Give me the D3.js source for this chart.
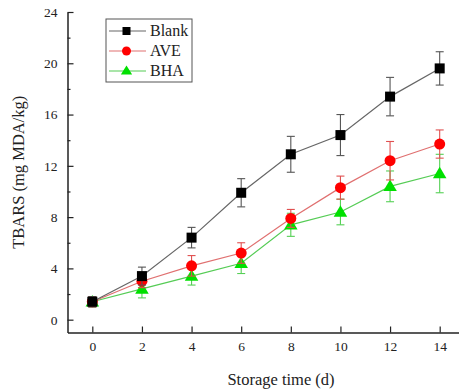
<!DOCTYPE html>
<html>
<head>
<meta charset="utf-8">
<script src="https://cdn.jsdelivr.net/npm/d3@7"></script>
<style>
  body { margin: 0; background: #fff; }
  svg { display: block; }
  text { font-family: "Liberation Serif", "Times New Roman", serif; fill: #222; }
</style>
</head>
<body>
<div id="chart"></div>
<script>
'use strict';

// storage days
var days = [0, 2, 4, 6, 8, 10, 12, 14];

var blank = [1.4, 3.4, 6.4, 9.9, 12.9, 14.4, 17.4, 19.6];
var blankErr = [0.4, 0.7, 0.8, 1.1, 1.4, 1.6, 1.5, 1.3];

var ave = [1.4, 3.0, 4.2, 5.2, 7.9, 10.3, 12.4, 13.7];
var aveErr = [0.4, 0.5, 0.8, 0.8, 0.7, 0.9, 1.5, 1.1];

var bha = [1.4, 2.4, 3.4, 4.4, 7.4, 8.4, 10.4, 11.4];
var bhaErr = [0.4, 0.7, 0.7, 0.8, 0.9, 1.0, 1.2, 1.5];

var xTicks = [0, 2, 4, 6, 8, 10, 12, 14];
var yTicks = [0, 4, 8, 12, 16, 20, 24];
var yMinor = [2, 6, 10, 14, 18, 22];

var seriesNames = ["Blank", "AVE", "BHA"];

const width = 459, height = 392;

let svg = d3.select("#chart").append("svg")
    .attr("width", width)
    .attr("height", height);

let x = d3.scaleLinear().domain([-1, 15]).range([67.5, 464.5]);
let y = d3.scaleLinear().domain([-1, 24]).range([332.5, 12]);

var series = [
    {name: seriesNames[0], values: blank, err: blankErr, marker: "square", fill: "#000", line: "#666", errColor: "#555"},
    {name: seriesNames[1], values: ave, err: aveErr, marker: "circle", fill: "#ff0000", line: "#e07070", errColor: "#e05050"},
    {name: seriesNames[2], values: bha, err: bhaErr, marker: "triangle", fill: "#00e000", line: "#55cc55", errColor: "#55d055"}
];

// axes
let xAxis = svg.append("g")
    .attr("transform", "translate(0," + y(-1) + ")")
    .call(d3.axisBottom(x).tickValues(xTicks).tickSizeInner(-6).tickSizeOuter(0).tickPadding(9));
let yAxis = svg.append("g")
    .attr("transform", "translate(" + x(-1) + ",0)")
    .call(d3.axisLeft(y).tickValues(yTicks).tickSizeInner(-6).tickSizeOuter(0).tickPadding(10));

svg.append("g")
    .attr("transform", "translate(" + x(-1) + ",0)")
    .call(d3.axisLeft(y).tickValues(yMinor).tickSizeInner(-3).tickSizeOuter(0).tickFormat(""))
    .select(".domain").remove();

[xAxis, yAxis].forEach(function(a) {
    a.select(".domain").attr("stroke", "#222").attr("stroke-width", 1.5);
    a.selectAll(".tick text").style("font-size", "13.5px").attr("fill", "#333");
});
svg.selectAll(".tick line").attr("stroke", "#222").attr("stroke-width", 1.2);

// axis titles
svg.append("text")
    .attr("x", 281)
    .attr("y", 385)
    .attr("text-anchor", "middle")
    .style("font-size", "16.5px")
    .text("Storage time (d)");

svg.append("text")
    .attr("transform", "translate(24," + y(11.5) + ") rotate(-90)")
    .attr("text-anchor", "middle")
    .style("font-size", "16.5px")
    .text("TBARS (mg MDA/kg)");

function drawMarker(g, s, cx, cy, r) {
    if (s.marker === "square") {
        g.append("rect")
            .attr("x", cx - r).attr("y", cy - r)
            .attr("width", 2 * r).attr("height", 2 * r)
            .attr("fill", s.fill);
    } else if (s.marker === "circle") {
        g.append("circle")
            .attr("cx", cx).attr("cy", cy).attr("r", r + 0.5)
            .attr("fill", s.fill);
    } else {
        var h = r * 1.15;
        g.append("path")
            .attr("d", "M" + cx + "," + (cy - h - 1) + "L" + (cx + h + 1) + "," + (cy + h - 1) + "L" + (cx - h - 1) + "," + (cy + h - 1) + "Z")
            .attr("fill", s.fill);
    }
}

// draw series, last first so Blank sits on top
series.slice().reverse().forEach(function(s) {
    var pts = days.map(function(d, i) { return {x: d, y: s.values[i], e: s.err[i]}; });
    var g = svg.append("g");

    g.append("path")
        .datum(pts)
        .attr("fill", "none")
        .attr("stroke", s.line)
        .attr("stroke-width", 1.2)
        .attr("d", d3.line().x(d => x(d.x)).y(d => y(d.y)));

    pts.forEach(function(p) {
        var cx = x(p.x);
        g.append("line")
            .attr("x1", cx).attr("x2", cx)
            .attr("y1", y(p.y - p.e)).attr("y2", y(p.y + p.e))
            .attr("stroke", s.errColor).attr("stroke-width", 1.1);
        [p.y - p.e, p.y + p.e].forEach(function(v) {
            g.append("line")
                .attr("x1", cx - 4).attr("x2", cx + 4)
                .attr("y1", y(v)).attr("y2", y(v))
                .attr("stroke", s.errColor).attr("stroke-width", 1.1);
        });
        drawMarker(g, s, cx, y(p.y), 5);
    });
});

// legend
let legend = svg.append("g").attr("transform", "translate(106,19)");
legend.append("rect")
    .attr("width", 86).attr("height", 63)
    .attr("fill", "#fff").attr("stroke", "#555").attr("stroke-width", 1);

series.forEach(function(s, i) {
    var ly = 12 + i * 20;
    legend.append("line")
        .attr("x1", 3).attr("x2", 40)
        .attr("y1", ly).attr("y2", ly)
        .attr("stroke", s.line).attr("stroke-width", 1.2);
    drawMarker(legend, s, 20.5, ly, 4);
    legend.append("text")
        .attr("x", 44).attr("y", ly + 5)
        .style("font-size", "16px")
        .text(s.name);
});
</script>
</body>
</html>
